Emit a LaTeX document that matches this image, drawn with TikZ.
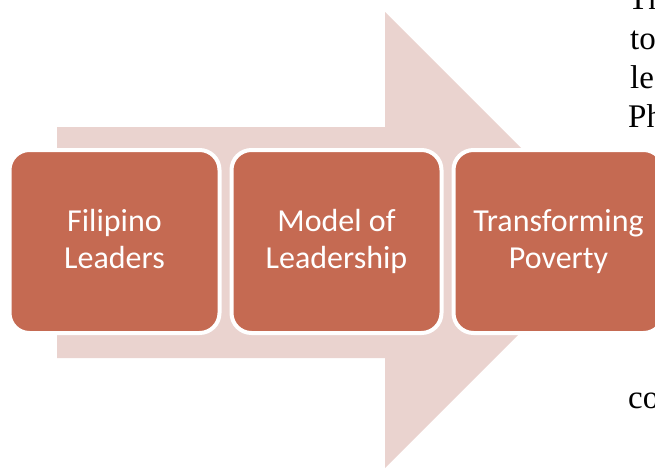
\documentclass[tikz,border=0pt]{standalone}
\usepackage{fontspec}
\setmainfont{Liberation Serif}
\newfontfamily\boxfont{Carlito}
\usetikzlibrary{positioning}
\definecolor{brick}{RGB}{197,106,82}
\definecolor{blush}{RGB}{234,211,207}
\tikzset{
  stage/.style={rectangle, rounded corners=20pt, fill=brick, draw=white, line width=4pt, minimum width=210pt, minimum height=183pt, align=center, text=white, font=\boxfont\fontsize{32}{37}\selectfont},
  pagetext/.style={anchor=base west, inner sep=0pt, font=\fontsize{33}{39}\selectfont}
}

\begin{document}
\begin{tikzpicture}[x=1pt,y=-1pt]
		\useasboundingbox (0,0) rectangle (655,469);
		\clip (0,0) rectangle (655,469);
		% big arrow behind the boxes
		\fill[blush] (57,127) -- (385,127) -- (385,12) -- (613,240) -- (385,468) -- (385,358) -- (57,358) -- cycle;
		
		\node[stage] (lead) at (114.5,241.5) {Filipino\\Leaders\vphantom{g}};
		\node[stage, right=8pt of lead] (model) {Model of\\Leadership};
		\node[stage, right=8pt of model] (poverty) {Transforming\\Poverty};
		
		% text of the page beside the figure
		\node[pagetext] (th) at (628,9) {Th};
		\node[pagetext] (to) at (630,49) {to};
		\node[pagetext] (le) at (630,88) {le};
		\node[pagetext] (ph) at (628,127) {Ph};
		\node[pagetext] (co) at (628,408) {co};
	\end{tikzpicture}
\end{document}
